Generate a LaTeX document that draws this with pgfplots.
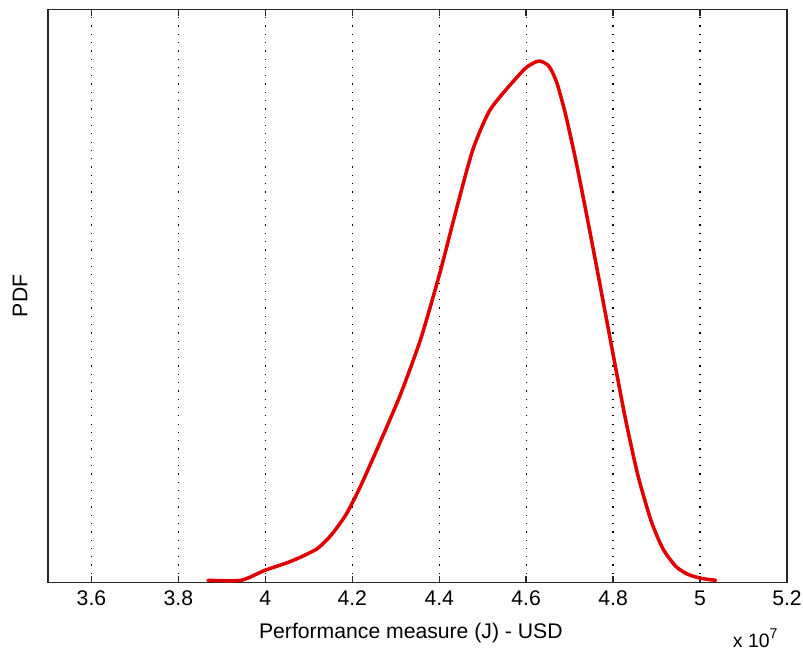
\documentclass[border=0pt]{standalone}
\usepackage{fontspec}
\setmainfont{Liberation Sans}
\usepackage{pgfplots}
\pgfplotsset{compat=1.18}
\definecolor{curvered}{RGB}{225,0,0}
\begin{document}
\begin{tikzpicture}
  % page = reference frame (axis box 739x572.5 px of 803x651)
  \useasboundingbox (-0.956cm,-1.375cm) rectangle (15.039cm,11.599cm);
  \begin{axis}[
    at={(0,0)}, anchor=south west,
    scale only axis,
    width=14.72cm,
    height=11.41cm,
    xmin=3.5, xmax=5.2,
    ymin=0, ymax=5.725,
    xtick={3.6,3.8,4,4.2,4.4,4.6,4.8,5,5.2},
    xticklabels={3.6,3.8,4,4.2,4.4,4.6,4.8,5,5.2},
    ytick=\empty,
    tick align=inside,
    xtick pos=both,
    major tick length=0.12cm,
    axis line style={line width=0.8pt, black!85},
    every tick/.style={line width=0.8pt, black!85},
    xmajorgrids,
    grid style={black, line width=0.7pt, dash pattern=on 0.7pt off 4pt},
    /pgf/number format/assume math mode=true,
    tick label style={font=\fontsize{12}{14}\selectfont},
    xticklabel style={yshift=-0.04cm},
  ]
    \addplot[color=curvered, line width=2pt, line join=round, line cap=round, smooth, tension=0.4] coordinates {
      (3.868,0.02) (3.944,0.02) (3.999,0.12) (4.059,0.21) (4.117,0.33)
      (4.151,0.47) (4.186,0.68) (4.220,0.97) (4.266,1.42) (4.312,1.89)
      (4.358,2.44) (4.402,3.10) (4.439,3.72) (4.477,4.32) (4.514,4.70)
      (4.553,4.92) (4.599,5.14) (4.629,5.21) (4.652,5.16) (4.670,5.00)
      (4.691,4.67) (4.714,4.22) (4.737,3.72) (4.760,3.20) (4.783,2.67)
      (4.806,2.14) (4.829,1.62) (4.857,1.07) (4.887,0.62) (4.914,0.34)
      (4.944,0.16) (4.972,0.08) (5.002,0.04) (5.036,0.02)
    };
  \end{axis}
  \node[font=\fontsize{12}{14}\selectfont] at (7.228cm,-1.016cm) {Performance measure (J) - USD};
  \node[font=\fontsize{12}{14}\selectfont, rotate=90] at (-0.558cm,5.705cm) {PDF};
  \node[font=\fontsize{11}{13}\selectfont] at (14.087cm,-1.11cm) {x 10\raisebox{0.9ex}{\fontsize{8}{9}\selectfont 7}};
\end{tikzpicture}
\end{document}
